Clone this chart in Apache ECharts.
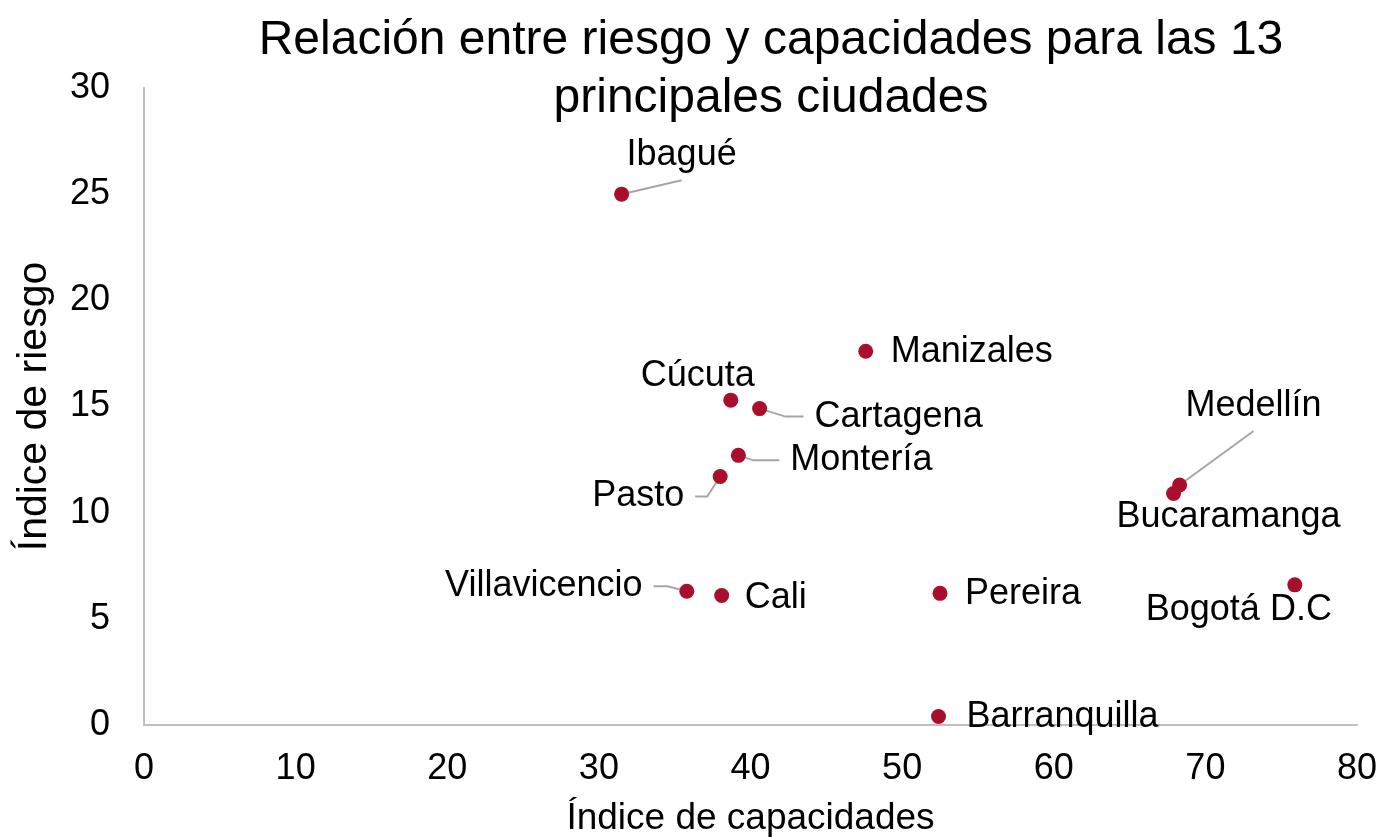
<!DOCTYPE html>
<html>
<head>
<meta charset="utf-8">
<title>Relación entre riesgo y capacidades</title>
<script src="https://cdn.jsdelivr.net/npm/echarts@6.0.0/dist/echarts.min.js"></script>
<style>
  html, body { margin: 0; padding: 0; background: #fff; }
  #chart { width: 1381px; height: 837px; }
</style>
</head>
<body>
<div id="chart"></div>
<script>
const ciudades = ['Ibagué', 'Manizales', 'Cúcuta', 'Cartagena', 'Montería', 'Pasto', 'Medellín', 'Bucaramanga', 'Villavicencio', 'Cali', 'Pereira', 'Bogotá D.C', 'Barranquilla'];
const capacidades = [31.5, 47.6, 38.7, 40.6, 39.2, 38.0, 68.3, 67.9, 35.8, 38.1, 52.5, 75.9, 52.4];
const riesgo = [25.0, 17.6, 15.3, 14.9, 12.7, 11.7, 11.3, 10.9, 6.3, 6.1, 6.2, 6.6, 0.4];

// posicion de cada etiqueta respecto a su punto (px); lado donde entra la guia y tramo recto final
const etiquetas = {
  'Ibagué': { dx: 60, dy: -39, guia: 'abajo', tramo: 0 },
  'Manizales': { dx: 106, dy: 1 },
  'Cúcuta': { dx: -33, dy: -24 },
  'Cartagena': { dx: 139, dy: 8, guia: 'izq', tramo: 18 },
  'Montería': { dx: 123, dy: 5, guia: 'izq', tramo: 26 },
  'Pasto': { dx: -82, dy: 20, guia: 'der', tramo: 12 },
  'Medellín': { dx: 74, dy: -79, guia: 'abajo', tramo: 0 },
  'Bucaramanga': { dx: 55, dy: 24 },
  'Villavicencio': { dx: -143, dy: -5, guia: 'der', tramo: 14 },
  'Cali': { dx: 54, dy: 3 },
  'Pereira': { dx: 83, dy: 1 },
  'Bogotá D.C': { dx: -56, dy: 25 },
  'Barranquilla': { dx: 124, dy: 1 }
};

const fuente = "'Liberation Sans', Arial, sans-serif";
const tamEtiqueta = 36;

const chart = echarts.init(document.getElementById('chart'));

const option = {
  animation: false,
  title: {
    text: 'Relación entre riesgo y capacidades para las 13\nprincipales ciudades',
    left: 766,
    top: 7,
    textAlign: 'center',
    textStyle: {
      fontFamily: fuente,
      fontSize: 48,
      fontWeight: 'normal',
      color: '#000',
      lineHeight: 58
    }
  },
  grid: {
    left: 144,
    right: 24,
    top: 88,
    bottom: 112,
    outerBoundsMode: 'none'
  },
  xAxis: {
    type: 'value',
    min: 0,
    max: 80,
    interval: 10,
    name: 'Índice de capacidades',
    nameLocation: 'middle',
    nameGap: 75,
    nameTextStyle: { fontFamily: fuente, fontSize: 37, color: '#000' },
    axisLine: { show: true, lineStyle: { color: '#BFBFBF', width: 2 } },
    axisTick: { show: false },
    splitLine: { show: false },
    axisLabel: { fontFamily: fuente, fontSize: 36, color: '#000', margin: 26 }
  },
  yAxis: {
    type: 'value',
    min: 0,
    max: 30,
    interval: 5,
    name: 'Índice de riesgo',
    nameLocation: 'middle',
    nameGap: 89,
    nameTextStyle: { fontFamily: fuente, fontSize: 41, color: '#000' },
    axisLine: { show: true, lineStyle: { color: '#BFBFBF', width: 2 } },
    axisTick: { show: false },
    splitLine: { show: false },
    axisLabel: { fontFamily: fuente, fontSize: 36, color: '#000', margin: 34 }
  },
  series: [
    {
      type: 'scatter',
      z: 3,
      symbol: 'circle',
      symbolSize: 15,
      itemStyle: { color: '#A90F2C', opacity: 1 },
      label: {
        show: true,
        formatter: '{b}',
        fontFamily: fuente,
        fontSize: tamEtiqueta,
        color: '#000'
      },
      labelLayout: function (params) {
        const e = etiquetas[ciudades[params.dataIndex]];
        return {
          x: params.rect.x + params.rect.width / 2 + e.dx,
          y: params.rect.y + params.rect.height / 2 + e.dy,
          align: 'center',
          verticalAlign: 'middle'
        };
      },
      data: ciudades.map((c, i) => ({ name: c, value: [capacidades[i], riesgo[i]] }))
    }
  ]
};

chart.setOption(option);

// lineas guia: del punto (segun las escalas del grafico) hasta el borde de su etiqueta
const ctx = document.createElement('canvas').getContext('2d');
ctx.font = tamEtiqueta + 'px ' + fuente;
const guias = [];
ciudades.forEach((c, i) => {
  const e = etiquetas[c];
  if (!e.guia) return;
  const p = chart.convertToPixel({ seriesIndex: 0 }, [capacidades[i], riesgo[i]]);
  const cx = p[0] + e.dx;
  const cy = p[1] + e.dy;
  const w = ctx.measureText(c).width;
  let fin, codo;
  if (e.guia === 'abajo') {
    fin = [cx, cy + tamEtiqueta / 2 + 7];
    codo = fin;
  } else if (e.guia === 'izq') {
    fin = [cx - w / 2 - 11, cy];
    codo = [fin[0] - e.tramo, cy];
  } else {
    fin = [cx + w / 2 + 11, cy];
    codo = [fin[0] + e.tramo, cy];
  }
  guias.push({
    type: 'polyline',
    z: 1,
    silent: true,
    shape: { points: [p, codo, fin] },
    style: { stroke: '#A6A6A6', lineWidth: 2, fill: null }
  });
});
chart.setOption({ graphic: guias });
</script>
</body>
</html>
